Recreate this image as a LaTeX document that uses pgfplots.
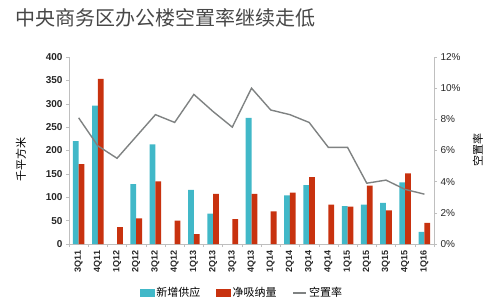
\documentclass[border=0pt]{standalone}
\usepackage{fontspec}
\setmainfont{Liberation Sans}
\newfontfamily\cjk{Noto Sans CJK SC}
\usepackage{pgfplots}
\usepackage{pgfplotstable}
\pgfplotsset{compat=1.18}
\definecolor{cy}{HTML}{41B8C8}
\definecolor{rd}{HTML}{C8320F}
\definecolor{ln}{HTML}{7F8282}
\definecolor{axc}{HTML}{BFBFBF}
\pgfplotstableread{
x y
0 220
1 296
3 128
4 213
6 116
7 65
9 270
11 104
12 126
14 81
15 84
16 88
17 132
18 26
}\supply
\pgfplotstableread{
x y
0 171
1 353
2 36
3 55
4 134
5 50
6 21
7 107
8 53
9 107
10 70
11 110
12 143
13 84
14 80
15 125
16 72
17 151
18 45
}\absorb
\pgfplotstableread{
x y
0 8.1
1 6.3
2 5.5
3 6.9
4 8.3
5 7.8
6 9.6
7 8.5
8 7.5
9 10.0
10 8.6
11 8.3
12 7.8
13 6.2
14 6.2
15 3.9
16 4.1
17 3.5
18 3.2
}\vacancy
\begin{document}
\begin{tikzpicture}
\path[use as bounding box] (0,0) rectangle (500pt,300pt);
\node[anchor=west, font=\cjk\fontsize{20}{20}\selectfont, text=black!72] at (12pt,282pt) {中央商务区办公楼空置率继续走低};
\begin{axis}[at={(69pt,56pt)}, anchor=south west, scale only axis, width=365pt, height=187pt,
  /pgf/number format/assume math mode=true,
  ybar=0pt, bar width=5.8pt,
  xmin=-0.5, xmax=18.5, ymin=0, ymax=400, ytick={0,50,...,400},
  xtick={0,...,18},
  xticklabels={3Q11,4Q11,1Q12,2Q12,3Q12,4Q12,1Q13,2Q13,3Q13,4Q13,1Q14,2Q14,3Q14,4Q14,1Q15,2Q15,3Q15,4Q15,1Q16},
  xticklabel style={rotate=90, anchor=east, font=\bfseries\fontsize{9}{9}\selectfont, text=black!85},
  yticklabel style={font=\bfseries\fontsize{10}{10}\selectfont, text=black!85},
  major x tick style={draw=none},
  minor xtick={-0.5,0.5,...,18.5},
  tick align=outside, major tick length=3pt, minor tick length=3pt,
  every tick/.style={axc},
  axis x line*=bottom, axis y line*=left,
  axis line style={axc, -},
  clip=false,
]
\addplot[draw=none, fill=cy] table[x=x,y=y] {\supply};
\addplot[draw=none, fill=rd] table[x=x,y=y] {\absorb};
\node[rotate=90, font=\cjk\fontsize{11}{11}\selectfont] at (axis description cs:-0.132,0.45) {千平方米};
\node[rotate=90, font=\cjk\fontsize{11}{11}\selectfont] at (axis description cs:1.12,0.50) {空置率};
\end{axis}
\begin{axis}[at={(69pt,56pt)}, anchor=south west, scale only axis, width=365pt, height=187pt,
  /pgf/number format/assume math mode=true,
  xmin=-0.5, xmax=18.5, ymin=0, ymax=12, ytick={0,2,...,12},
  yticklabel={\pgfmathprintnumber{\tick}\%},
  yticklabel style={font=\fontsize{10}{10}\selectfont, text=black!85},
  axis y line*=right, axis x line=none,
  axis line style={axc, -},
  tick align=outside, major tick length=3pt,
  every tick/.style={axc},
  legend style={at={(axis description cs:0.474,-0.262)}, anchor=center, draw=none, fill=none,
    legend columns=3, font=\cjk\fontsize{11}{11}\selectfont,
    /tikz/every even column/.append style={column sep=14pt}},
]
\addlegendimage{legend image code/.code={\fill[cy] (0pt,-3.5pt) rectangle (14pt,3.5pt);}}
\addlegendentry{新增供应}
\addlegendimage{legend image code/.code={\fill[rd] (0pt,-3.5pt) rectangle (14pt,3.5pt);}}
\addlegendentry{净吸纳量}
\addplot[ln, line width=1.4pt, mark=none, legend image code/.code={\draw[ln, line width=1.4pt] (0pt,0pt) -- (13pt,0pt);}] table[x=x,y=y] {\vacancy};
\addlegendentry{空置率}
\end{axis}
\end{tikzpicture}
\end{document}
